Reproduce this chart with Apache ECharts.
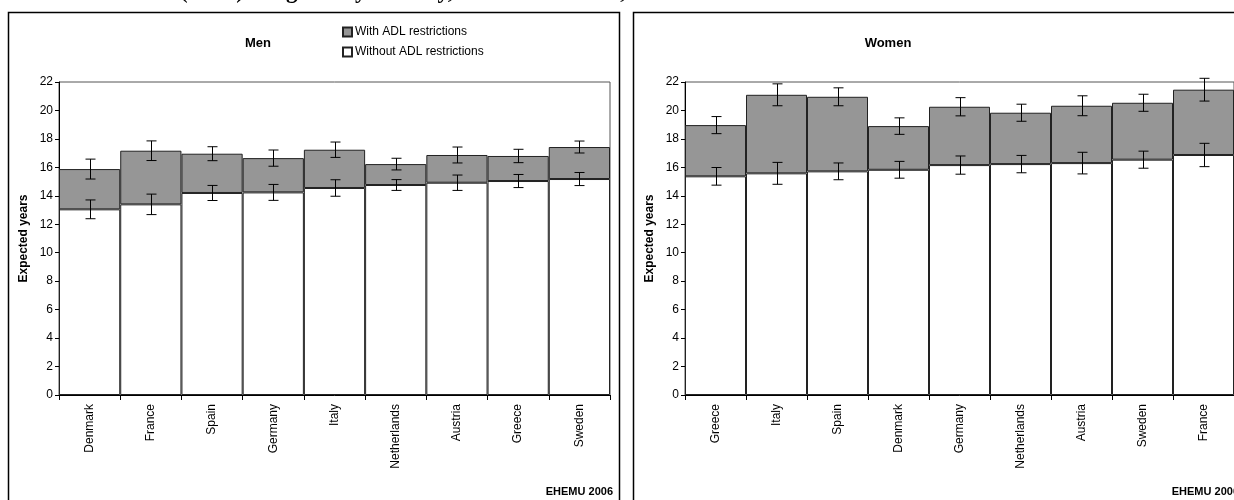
<!DOCTYPE html>
<html>
<head>
<meta charset="utf-8">
<script src="https://cdn.jsdelivr.net/npm/echarts@6/dist/echarts.min.js"></script>
<style>html,body{margin:0;padding:0;background:#fff;}#chart{width:1234px;height:500px;}</style>
</head>
<body>
<div id="chart"></div>
<script>
// ---------- data ----------
const menCountries = ['Denmark','France','Spain','Germany','Italy','Netherlands','Austria','Greece','Sweden'];
const menWithout   = [13.05, 13.40, 14.20, 14.24, 14.55, 14.76, 14.92, 15.04, 15.18];
const menWith      = [2.83, 3.77, 2.76, 2.41, 2.69, 1.47, 1.95, 1.76, 2.25];
const menErrWithout= [0.66, 0.72, 0.53, 0.56, 0.58, 0.38, 0.54, 0.46, 0.46];
const menErrTotal  = [0.70, 0.69, 0.49, 0.57, 0.54, 0.41, 0.56, 0.47, 0.42];

const womenCountries = ['Greece','Italy','Spain','Denmark','Germany','Netherlands','Austria','Sweden','France'];
const womenWithout   = [15.37, 15.58, 15.72, 15.83, 16.16, 16.23, 16.30, 16.54, 16.87];
const womenWith      = [3.60, 5.52, 5.24, 3.07, 4.10, 3.61, 4.03, 4.00, 4.59];
const womenErrWithout= [0.62, 0.77, 0.59, 0.59, 0.64, 0.61, 0.76, 0.60, 0.82];
const womenErrTotal  = [0.60, 0.77, 0.63, 0.58, 0.64, 0.60, 0.70, 0.60, 0.80];

const yTicks = {min: 0, max: 22, interval: 2};
const seriesNames = ['With ADL restrictions', 'Without ADL restrictions'];
const panelTitles = ['Men', 'Women'];
const sourceNote = 'EHEMU 2006';
const topTitle = '(HLE) at age 65 by country, men and women, 2001';

// ---------- chart ----------
const FONT = 'Arial, "Liberation Sans", sans-serif';
const GRAY = '#969696';

function errData(without, withv, errW, errT) {
  const out = [];
  for (let i = 0; i < without.length; i++) {
    out.push([i, without[i], errW[i]]);
    out.push([i, without[i] + withv[i], errT[i]]);
  }
  return out;
}

function renderErr(params, api) {
  const i = api.value(0), c = api.value(1), e = api.value(2);
  const top = api.coord([i, c + e]);
  const bot = api.coord([i, c - e]);
  const x = Math.round(top[0]) + 0.5;
  const cap = 5;
  const st = {stroke: '#000', lineWidth: 1};
  return {
    type: 'group',
    children: [
      {type: 'line', shape: {x1: x, y1: top[1], x2: x, y2: bot[1]}, style: st},
      {type: 'line', shape: {x1: x - cap, y1: top[1], x2: x + cap, y2: top[1]}, style: st},
      {type: 'line', shape: {x1: x - cap, y1: bot[1], x2: x + cap, y2: bot[1]}, style: st}
    ]
  };
}

function xAxisFor(cats, gi) {
  return {
    type: 'category', gridIndex: gi, data: cats,
    axisLine: {lineStyle: {color: '#000', width: 1}},
    axisTick: {show: true, length: 5, lineStyle: {color: '#000'}},
    axisLabel: {rotate: 90, interval: 0, color: '#000', fontFamily: FONT, fontSize: 12, margin: 9}
  };
}
function yAxisFor(gi) {
  return {
    type: 'value', gridIndex: gi, min: yTicks.min, max: yTicks.max, interval: yTicks.interval,
    name: 'Expected years', nameLocation: 'middle', nameGap: 29,
    nameTextStyle: {fontFamily: FONT, fontSize: 12, fontWeight: 'bold', color: '#000'},
    axisLine: {show: true, lineStyle: {color: '#000', width: 1}},
    axisTick: {show: true, length: 4, lineStyle: {color: '#000'}},
    axisLabel: {color: '#000', fontFamily: FONT, fontSize: 12, margin: 6},
    splitLine: {show: false}
  };
}

const barStyleWith = {color: GRAY, borderColor: '#222', borderWidth: 1};
const barStyleWithout = {color: '#fff', borderColor: '#222', borderWidth: 1};

const option = {
  animation: false,
  backgroundColor: '#fff',
  grid: [
    {left: 59, top: 82, width: 551, height: 313, show: true, borderColor: '#555', borderWidth: 1},
    {left: 685, top: 82, width: 551, height: 313, show: true, borderColor: '#555', borderWidth: 1}
  ],
  xAxis: [xAxisFor(menCountries, 0), xAxisFor(womenCountries, 1)],
  yAxis: [yAxisFor(0), yAxisFor(1)],
  legend: {
    data: seriesNames, orient: 'vertical', left: 337, top: 21, itemGap: 8,
    itemWidth: 9, itemHeight: 9, icon: 'rect',
    textStyle: {fontFamily: FONT, fontSize: 12, color: '#000', padding: [0, 0, 0, -2]}
  },
  series: [
    {name: seriesNames[1], type: 'bar', xAxisIndex: 0, yAxisIndex: 0, stack: 'm', data: menWithout,
      barCategoryGap: '0%', itemStyle: barStyleWithout},
    {name: seriesNames[0], type: 'bar', xAxisIndex: 0, yAxisIndex: 0, stack: 'm', data: menWith,
      barCategoryGap: '0%', itemStyle: barStyleWith},
    {name: seriesNames[1], type: 'bar', xAxisIndex: 1, yAxisIndex: 1, stack: 'w', data: womenWithout,
      barCategoryGap: '0%', itemStyle: barStyleWithout},
    {name: seriesNames[0], type: 'bar', xAxisIndex: 1, yAxisIndex: 1, stack: 'w', data: womenWith,
      barCategoryGap: '0%', itemStyle: barStyleWith},
    {type: 'custom', xAxisIndex: 0, yAxisIndex: 0, clip: false, z: 5,
      data: errData(menWithout, menWith, menErrWithout, menErrTotal),
      encode: {x: 0, y: 1}, renderItem: renderErr},
    {type: 'custom', xAxisIndex: 1, yAxisIndex: 1, clip: false, z: 5,
      data: errData(womenWithout, womenWith, womenErrWithout, womenErrTotal),
      encode: {x: 0, y: 1}, renderItem: renderErr}
  ],
  graphic: [
    {type: 'rect', shape: {x: 8.5, y: 12.5, width: 611, height: 520},
      style: {fill: 'none', stroke: '#000', lineWidth: 1.5}, z: 0},
    {type: 'rect', shape: {x: 633.5, y: 12.5, width: 612, height: 520},
      style: {fill: 'none', stroke: '#000', lineWidth: 1.5}, z: 0},
    {type: 'text', x: 180, y: 4, style: {text: topTitle, fill: '#000',
      font: 'bold 23px "Times New Roman", "Liberation Serif", serif', textAlign: 'left', textVerticalAlign: 'bottom'}},
    {type: 'text', x: 258, y: 43, style: {text: panelTitles[0], fill: '#000',
      font: 'bold 13px ' + FONT, textAlign: 'center', textVerticalAlign: 'middle'}},
    {type: 'text', x: 888, y: 43, style: {text: panelTitles[1], fill: '#000',
      font: 'bold 13px ' + FONT, textAlign: 'center', textVerticalAlign: 'middle'}},
    {type: 'text', x: 613, y: 492, style: {text: sourceNote, fill: '#000',
      font: 'bold 11px ' + FONT, textAlign: 'right', textVerticalAlign: 'middle'}},
    {type: 'text', x: 1239, y: 492, style: {text: sourceNote, fill: '#000',
      font: 'bold 11px ' + FONT, textAlign: 'right', textVerticalAlign: 'middle'}}
  ]
};

const chart = echarts.init(document.getElementById('chart'), null, {renderer: 'canvas'});
chart.setOption(option);
</script>
</body>
</html>
